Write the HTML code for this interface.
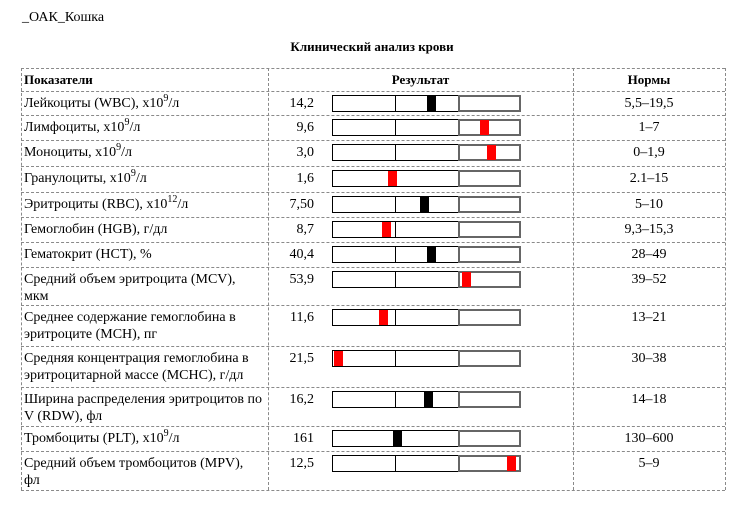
<!DOCTYPE html>
<html><head><meta charset="utf-8">
<style>
body{margin:0;background:#fff;width:738px;height:516px;position:relative;font-family:"Liberation Serif",serif;color:#000;overflow:hidden}
.abs{position:absolute}
.t{font-size:14px;line-height:17px;white-space:nowrap}
.hl{position:absolute;left:21px;width:704px;border-top:1px dashed #8a8a8a;height:0}
.vl{position:absolute;width:0;border-left:1px dashed #8a8a8a}
sup{font-size:10px;line-height:0;vertical-align:6px}
</style></head><body>
<div class="abs t" style="left:22px;top:9px">_ОАК_Кошка</div>
<div class="abs t" style="left:0;width:744px;text-align:center;top:38px;font-weight:bold;font-size:13px">Клинический анализ крови</div>
<div id="tbl"></div>
<script>
const labels=["Лейкоциты (WBC), x10<sup>9</sup>/л","Лимфоциты, x10<sup>9</sup>/л","Моноциты, x10<sup>9</sup>/л","Гранулоциты, x10<sup>9</sup>/л","Эритроциты (RBC), x10<sup>12</sup>/л","Гемоглобин (HGB), г/дл","Гематокрит (HCT), %","Средний объем эритроцита (MCV),<br>мкм","Среднее содержание гемоглобина в<br>эритроците (MCH), пг","Средняя концентрация гемоглобина в<br>эритроцитарной массе (MCHC), г/дл","Ширина распределения эритроцитов по<br>V (RDW), фл","Тромбоциты (PLT), x10<sup>9</sup>/л","Средний объем тромбоцитов (MPV),<br>фл"];
const values=["14,2","9,6","3,0","1,6","7,50","8,7","40,4","53,9","11,6","21,5","16,2","161","12,5"];
const norms=["5,5–19,5","1–7","0–1,9","2.1–15","5–10","9,3–15,3","28–49","39–52","13–21","30–38","14–18","130–600","5–9"];
const markerPos=[0.53,0.82,0.86,0.31,0.49,0.28,0.53,0.72,0.26,0.01,0.51,0.34,0.97];
const outOfRange=[false,true,true,true,false,true,false,true,true,true,false,false,true];
const rowTops=[91,115,140,166,192,217,242,267,305,346,387,426,451,490];
const tbl=document.getElementById('tbl');
let h='';
[68,...rowTops].forEach(y=>{h+=`<div class="hl" style="top:${y}px"></div>`});
[21,268,573,725].forEach(x=>{h+=`<div class="vl" style="left:${x}px;top:68px;height:422px"></div>`});
h+=`<div class="abs t" style="left:24px;top:71px;font-weight:bold;font-size:13px">Показатели</div>`;
h+=`<div class="abs t" style="left:268px;width:305px;text-align:center;top:71px;font-weight:bold;font-size:13px">Результат</div>`;
h+=`<div class="abs t" style="left:573px;width:152px;text-align:center;top:71px;font-weight:bold;font-size:13px">Нормы</div>`;
tbl.innerHTML=h;
const BX=332,BW=189,MW=9;
labels.forEach((lab,i)=>{
  const y=rowTops[i];
  const row=document.createElement('div');
  
  
  const mx=BX+markerPos[i]*(BW-MW);
  row.innerHTML=`<div class="abs t" style="left:24px;top:${y+4}px">${lab}</div>
<div class="abs t" style="left:268px;width:46px;text-align:right;top:${y+4}px">${values[i]}</div>
<div class="abs" style="left:${BX}px;top:${y+4}px;width:${BW}px;height:17px;box-sizing:border-box;border:1px solid #000">
 <div class="abs" style="left:62px;top:0;height:15px;border-left:1px solid #000"></div>
 <div class="abs" style="left:125px;top:-1px;width:63px;height:17px;box-sizing:border-box;border:2px solid #666"></div>
</div>
<div class="abs" style="left:${mx}px;top:${y+5}px;width:${MW}px;height:15px;background:${outOfRange[i]?'#f00':'#000'}"></div>
<div class="abs t" style="left:573px;width:152px;text-align:center;top:${y+4}px">${norms[i]}</div>`;
  tbl.appendChild(row);
});
</script>
</body></html>
